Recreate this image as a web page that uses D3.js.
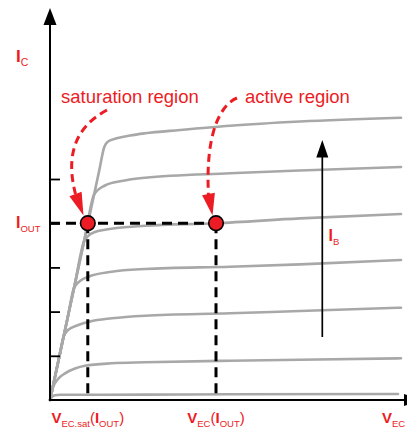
<!DOCTYPE html>
<html><head><meta charset="utf-8">
<script src="https://cdn.jsdelivr.net/npm/d3@7"></script>
<style>body{margin:0;background:#fff}svg{display:block;font-family:"Liberation Sans",Arial,Helvetica,sans-serif}</style>
</head><body><svg id="c" width="407" height="429"></svg>
<script>
// ---- data (V_EC in arbitrary volts, I_C in arbitrary mA) ----
const curveIB0 = [[0,0],[0.057,0.068],[0.143,0.106],[0.286,0.118],[2.714,0.122],[5.143,0.129],[9.943,0.136]];
const curveIB1 = [[0,0],[0.094,0.301],[0.229,0.475],[0.429,0.604],[0.714,0.713],[1.0,0.776],[1.763,0.830],[2.714,0.853],[5.143,0.889],[7.143,0.912],[10.029,0.943]];
const curveIB2 = [[0,0],[0.25,0.923],[0.386,1.425],[0.514,1.584],[0.809,1.697],[1.143,1.776],[1.763,1.848],[2.714,1.907],[5.143,1.961],[7.143,2.014],[10.029,2.088]];
const curveIB3 = [[0,0],[0.5,1.846],[0.689,2.543],[0.857,2.692],[1.094,2.790],[1.763,2.903],[2.714,2.964],[5.143,3.016],[7.143,3.068],[10.029,3.167]];
const curveIB4 = [[0,0],[0.7,2.584],[0.971,3.585],[1.086,3.710],[1.286,3.801],[1.571,3.851],[2.714,3.943],[4.743,4.0],[7.143,4.109],[10.029,4.208]];
const curveIB5 = [[0,0],[1.0,3.691],[1.26,4.65],[1.571,4.853],[2.049,4.955],[2.714,5.029],[5.143,5.129],[7.143,5.192],[10.029,5.271]];
const curveIB6 = [[0,0],[1.40,5.167],[1.551,5.724],[1.657,5.848],[1.906,5.921],[2.286,5.984],[2.714,6.034],[3.714,6.109],[5.143,6.206],[7.143,6.301],[10.029,6.387]];
const curves = [curveIB0, curveIB1, curveIB2, curveIB3, curveIB4, curveIB5, curveIB6];
const yTicks = [1, 2, 3, 4, 5];
const iOut = 4.0;        // operating current
const vSatOut = 1.08;    // V_EC,sat(I_OUT)
const vEcOut = 4.743;    // V_EC(I_OUT)

const RED = "#ec1c24", GRAY = "#a8a8a8";
const svg = d3.select("#c");
const x = d3.scaleLinear().domain([0, 10]).range([50, 400]);
const y = d3.scaleLinear().domain([0, 9]).range([400, 2.2]);

// curves
const line = d3.line().x(d => x(d[0])).y(d => y(d[1])).curve(d3.curveMonotoneX);
svg.append("g").selectAll("path").data(curves).join("path")
  .attr("d", line).attr("fill", "none").attr("stroke", GRAY)
  .attr("stroke-width", 2.6).attr("stroke-linecap", "round");

// axes
const yAxis = d3.axisRight(y).tickValues(yTicks).tickSize(10).tickSizeOuter(0).tickFormat("");
const ga = svg.append("g").attr("transform", `translate(${x(0)},0)`).call(yAxis);
ga.select(".domain").remove();
ga.selectAll(".tick line").attr("stroke", "#000").attr("stroke-width", 1.8);

svg.append("line").attr("x1", x(0)).attr("y1", y(0) + 1).attr("x2", x(0)).attr("y2", 20)
  .attr("stroke", "#000").attr("stroke-width", 2);
svg.append("path").attr("d", `M${x(0)},8 L${x(0) - 6.5},25 L${x(0) + 6.5},25 Z`).attr("fill", "#000");
svg.append("line").attr("x1", x(0) - 1).attr("y1", y(0)).attr("x2", 410).attr("y2", y(0))
  .attr("stroke", "#000").attr("stroke-width", 2);
svg.append("path").attr("d", `M421,${y(0)} L404,${y(0) - 6} L404,${y(0) + 6} Z`).attr("fill", "#000");

// dashed operating lines
const dash = svg.append("g").attr("stroke", "#000").attr("stroke-width", 3).attr("stroke-dasharray", "10,6").attr("fill", "none");
dash.append("line").attr("x1", x(0)).attr("x2", x(vEcOut)).attr("y1", y(iOut)).attr("y2", y(iOut));
dash.append("line").attr("x1", x(vSatOut)).attr("x2", x(vSatOut)).attr("y1", y(iOut)).attr("y2", y(0));
dash.append("line").attr("x1", x(vEcOut)).attr("x2", x(vEcOut)).attr("y1", y(iOut)).attr("y2", y(0));

svg.append("g").selectAll("circle").data([vSatOut, vEcOut]).join("circle")
  .attr("cx", d => x(d)).attr("cy", y(iOut)).attr("r", 7.3)
  .attr("fill", RED).attr("stroke", "#000").attr("stroke-width", 1.6);

// I_B arrow
svg.append("line").attr("x1", 322.3).attr("x2", 322.3).attr("y1", 337).attr("y2", 152)
  .attr("stroke", "#000").attr("stroke-width", 1.7);
svg.append("path").attr("d", "M322.3,140 L316.3,157.5 L328.3,157.5 Z").attr("fill", "#000");

// red dashed arrows
function redArrow(d, tip, base) {
  svg.append("path").attr("d", d).attr("fill", "none").attr("stroke", RED)
    .attr("stroke-width", 3).attr("stroke-dasharray", "8,5");
  const dx = tip[0] - base[0], dy = tip[1] - base[1], L = Math.hypot(dx, dy);
  const nx = -dy / L * 6.5, ny = dx / L * 6.5;
  svg.append("path").attr("d", `M${tip[0]},${tip[1]} L${base[0] + nx},${base[1] + ny} L${base[0] - nx},${base[1] - ny} Z`).attr("fill", RED);
}
redArrow("M107,110 Q60,135 75.5,194", [83.5, 215.5], [75.5, 194]);
redArrow("M237,98 C222,104 205,130 208.5,195", [212.5, 215.5], [208.5, 194]);

// texts
svg.append("text").attr("x", 61).attr("y", 103).attr("fill", RED).attr("font-size", 18.5).text("saturation region");
svg.append("text").attr("x", 245).attr("y", 103).attr("fill", RED).attr("font-size", 18.5).text("active region");

function label(xp, yp, parts, anchor, main, sub) {
  const t = svg.append("text").attr("x", xp).attr("y", yp).attr("fill", RED).attr("text-anchor", anchor);
  let shifted = false;
  parts.forEach(p => {
    const s = t.append("tspan").text(p[0]);
    if (p[1] === "s") {
      s.attr("font-size", sub).attr("font-weight", "normal");
      if (!shifted) { s.attr("dy", 4); shifted = true; }
    } else {
      s.attr("font-size", main).attr("font-weight", p[1] === "b" ? "bold" : "normal");
      if (shifted) { s.attr("dy", -4); shifted = false; }
    }
  });
}
label(16, 62, [["I", "b"], ["C", "s"]], "start", 17, 10.5);
label(16, 228, [["I", "b"], ["OUT", "s"]], "start", 16, 9.5);
label(328.5, 241, [["I", "b"], ["B", "s"]], "start", 16, 9.5);
label(x(vSatOut), 423, [["V", "b"], ["EC.sat", "s"], ["(", "n"], ["I", "b"], ["OUT", "s"], [")", "n"]], "middle", 15, 9.5);
label(x(vEcOut), 423, [["V", "b"], ["EC", "s"], ["(", "n"], ["I", "b"], ["OUT", "s"], [")", "n"]], "middle", 15, 9.5);
label(382, 423, [["V", "b"], ["EC", "s"]], "start", 15, 9.5);
</script></body></html>
